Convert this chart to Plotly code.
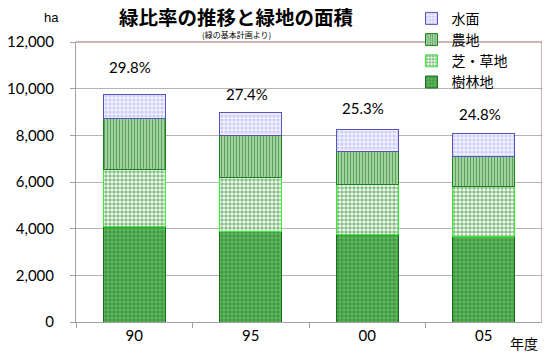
import plotly.graph_objects as go

years = ["90", "95", "00", "05"]
forest = [4090, 3870, 3760, 3660]      # 樹林地
grass = [2430, 2340, 2140, 2130]       # 芝・草地
farm = [2210, 1790, 1400, 1300]        # 農地
water = [1010, 970, 960, 1000]         # 水面
pct_labels = ["29.8%", "27.4%", "25.3%", "24.8%"]
pct_label_y = [10920, 9770, 9180, 8900]
y_ticks = [0, 2000, 4000, 6000, 8000, 10000, 12000]

JP = "Noto Sans CJK JP"
NUM = "Lato"

fig = go.Figure()
series = [
    ("樹林地", forest, dict(shape=".", bgcolor="#5cb45c", fgcolor="#207a20", size=4, solidity=0.45), "#1a6e1a"),
    ("芝・草地", grass, dict(shape=".", bgcolor="#ffffff", fgcolor="#0f800f", size=4, solidity=0.65), "#33ee33"),
    ("農地", farm, dict(shape="|", bgcolor="#b8e4b8", fgcolor="#006000", size=3, solidity=0.5), "#1f801f"),
    ("水面", water, dict(shape=".", bgcolor="#f0f0ff", fgcolor="#a8a8ee", size=4, solidity=0.5), "#5555bb"),
]
for name, vals, pat, lc in series:
    fig.add_trace(go.Bar(
        x=years, y=vals, name=name,
        marker=dict(pattern=pat, line=dict(color=lc, width=1)),
    ))

# category index positions for the percentage labels
for i, (lab, ly) in enumerate(zip(pct_labels, pct_label_y)):
    fig.add_annotation(x=i, y=ly, text=lab, showarrow=False, xshift=-4,
                       font=dict(family=NUM, size=15, color="#000000"))

fig.add_annotation(xref="paper", yref="paper", x=0.345, y=1.09, text="緑比率の推移と緑地の面積",
                   showarrow=False, yanchor="middle",
                   font=dict(family=JP, size=19.5, color="#000000", weight="bold"))
fig.add_annotation(xref="paper", yref="paper", x=0.345, y=1.027, text="(緑の基本計画より)",
                   showarrow=False, yanchor="middle",
                   font=dict(family=JP, size=8, color="#000000"))
fig.add_annotation(xref="paper", yref="paper", x=-0.072, y=1.089, text="ha",
                   showarrow=False, yanchor="middle",
                   font=dict(family="Liberation Sans", size=13, color="#000000"))
fig.add_annotation(xref="paper", yref="paper", x=0.996, xanchor="right", y=-0.075, text="年度",
                   showarrow=False, yanchor="middle",
                   font=dict(family=JP, size=14, color="#000000"))

# top and right frame lines
fig.add_shape(type="line", xref="paper", yref="paper", x0=0, x1=1, y0=1, y1=1,
              line=dict(color="#9a6a6a", width=1))
fig.add_shape(type="line", xref="paper", yref="paper", x0=1, x1=1, y0=0, y1=1,
              line=dict(color="#9a6a6a", width=1))

fig.update_layout(
    width=542, height=352,
    margin=dict(l=68, r=8, t=34, b=38, autoexpand=False),
    barmode="stack", bargap=0.47,
    plot_bgcolor="#ffffff", paper_bgcolor="#ffffff",
    showlegend=True,
    legend=dict(traceorder="reversed", x=0.72, xanchor="left", y=1.14, yanchor="top",
                bgcolor="rgba(0,0,0,0)", font=dict(family=JP, size=14, color="#000000"),
                itemwidth=30, tracegroupgap=0),
    xaxis=dict(type="category", automargin=False, range=[-0.5, 3.5],
               showline=True, linecolor="#a0a0a0", linewidth=1, ticks="outside",
               tickson="boundaries", ticklen=5, tickcolor="#a0a0a0",
               tickfont=dict(family=NUM, size=15, color="#000000"), showgrid=False),
    yaxis=dict(range=[0, 12000], tickvals=y_ticks, tickformat=",d", automargin=False,
               showline=True, linecolor="#a0a0a0", linewidth=1,
               ticks="outside", ticklen=5, tickcolor="#a0a0a0",
               gridcolor="#b4b4b4", gridwidth=1, zeroline=False,
               ticklabelstandoff=13,
               tickfont=dict(family=NUM, size=15, color="#000000")),
)

fig.write_html("out.html")
